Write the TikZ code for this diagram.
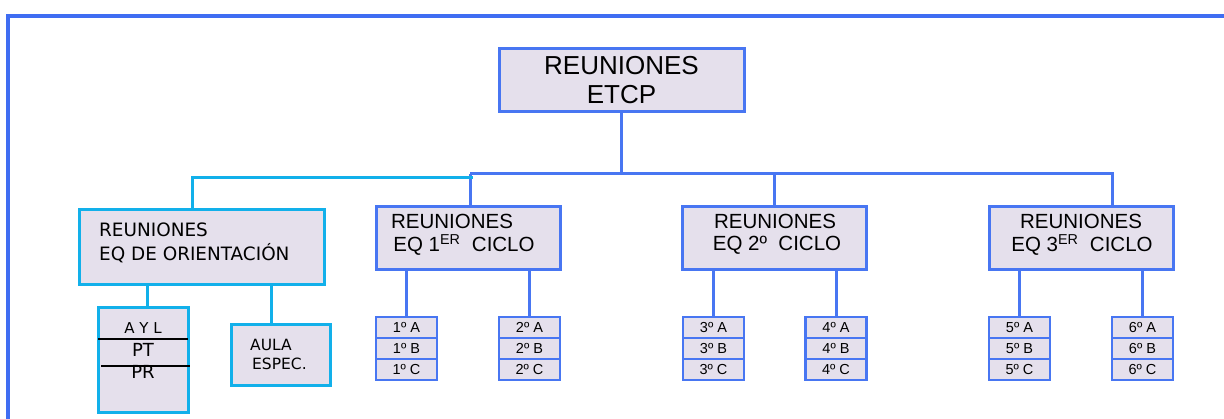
\documentclass[tikz,border=0pt]{standalone}
\usepackage{fontspec}
\newfontfamily\lib{Liberation Sans}
\newfontfamily\dej{DejaVu Sans}
\definecolor{bblue}{HTML}{4876F2}
\definecolor{cyanc}{HTML}{12B0EA}
\definecolor{boxfill}{HTML}{E5E0EC}
\definecolor{framec}{HTML}{3F6DF2}
\begin{document}
\begin{tikzpicture}[x=1pt,y=-1pt,
  bbox/.style={draw=bblue, line width=3pt, fill=boxfill, inner sep=0pt},
  cbox/.style={draw=cyanc, line width=3pt, fill=boxfill, inner sep=0pt},
  cell/.style={draw=bblue, line width=2.8pt, fill=boxfill, minimum width=61pt, minimum height=21pt, inner sep=0pt, font=\lib\fontsize{14.5}{16}\selectfont},
  bline/.style={draw=bblue, line width=3pt},
  cline/.style={draw=cyanc, line width=3pt},
  txt/.style={inner sep=0pt, text=black},
  strike/.style={draw=black, line width=1.6pt}]
\useasboundingbox (0,0) rectangle (1224,419);
% frame
\draw[framec, line width=4pt] (8,421) -- (8,16) -- (1226,16);

% top
\node[bbox, minimum width=245pt, minimum height=63pt, align=center,
  font=\lib\fontsize{26}{29}\selectfont] (etcp) at (621.5,80.5) {REUNIONES\\ETCP};

% level 2 boxes
\node[bbox, minimum width=184pt, minimum height=63pt] (eq1) at (468,238.5) {};
\node[bbox, minimum width=184pt, minimum height=63pt] (eq2) at (774.5,238.5) {};
\node[bbox, minimum width=184pt, minimum height=63pt] (eq3) at (1081,238.5) {};
\node[cbox, minimum width=245pt, minimum height=75pt] (orient) at (201.5,247.5) {};

\begin{scope}[font=\lib\fontsize{20.5}{24}\selectfont]
\node[txt] (eq1a) at (452,221) {REUNIONES};
\node[txt] (eq1b) at (464,245) {EQ 1\textsuperscript{ER}\ \ CICLO};
\node[txt] (eq2a) at (775,221) {REUNIONES};
\node[txt] (eq2b) at (777,245) {EQ 2º\ \ CICLO};
\node[txt] (eq3a) at (1081,221) {REUNIONES};
\node[txt] (eq3b) at (1082,245) {EQ 3\textsuperscript{ER}\ \ CICLO};
\end{scope}
\begin{scope}[font=\dej\fontsize{18.4}{22}\selectfont]
\node[txt, anchor=west] (ora) at (99,230) {REUNIONES};
\node[txt, anchor=west] (orb) at (99,253) {EQ DE ORIENTACIÓN};
\end{scope}

% connectors from top
\coordinate (busL) at (470,174);
\coordinate (cyEnd) at (473,178);
\draw[bline] (etcp.south) -- (etcp.south |- busL);
\draw[bline] (busL) -- (eq1.north -| busL);
\draw[bline] (busL) -| ([xshift=31pt]eq3.north);
\draw[bline] (eq2.north |- busL) -- (eq2.north);
\draw[cline] ([xshift=-9.5pt]orient.north) |- (cyEnd);

% cells
\foreach \n/\x in {1/406.5,2/529.5,3/713.5,4/836,5/1019.5,6/1142.5}{
  \node[cell] (c\n a) at (\x,327.5) {\n º A};
  \node[cell] (c\n b) at (\x,348.5) {\n º B};
  \node[cell] (c\n c) at (\x,369.5) {\n º C};
}
\draw[bline] (eq1.south -| c1a.north) -- (c1a.north);
\draw[bline] (eq1.south -| c2a.north) -- (c2a.north);
\draw[bline] (eq2.south -| c3a.north) -- (c3a.north);
\draw[bline] (eq2.south -| c4a.north) -- (c4a.north);
\draw[bline] (eq3.south -| c5a.north) -- (c5a.north);
\draw[bline] (eq3.south -| c6a.north) -- (c6a.north);

% orientation children
\node[cbox, minimum width=90pt, minimum height=105pt] (ayl) at (143,360.5) {};
\node[cbox, minimum width=99pt, minimum height=61pt] (aula) at (280.5,355.5) {};
\draw[cline] (orient.south -| 147,0) -- (ayl.north -| 147,0);
\draw[cline] (orient.south -| 271,0) -- (aula.north -| 271,0);

\node[txt, font=\dej\fontsize{15}{17}\selectfont] (aylt) at (143,328) {A Y L};
\node[txt, font=\dej\fontsize{18}{20}\selectfont] (pt) at (143,349.5) {PT};
\node[txt, font=\dej\fontsize{18}{20}\selectfont] (pr) at (143,371.5) {PR};
\coordinate (s1a) at (98,339);
\coordinate (s1b) at (188,339);
\coordinate (s2a) at (101,366);
\coordinate (s2b) at (190,366);
\draw[strike] (s1a) -- (s1b);
\draw[strike] (s2a) -- (s2b);

\begin{scope}[font=\dej\fontsize{15.5}{18}\selectfont]
\node[txt, anchor=west] (aulaa) at (250,345) {AULA};
\node[txt, anchor=west] (aulab) at (252,364) {ESPEC.};
\end{scope}
\end{tikzpicture}
\end{document}
